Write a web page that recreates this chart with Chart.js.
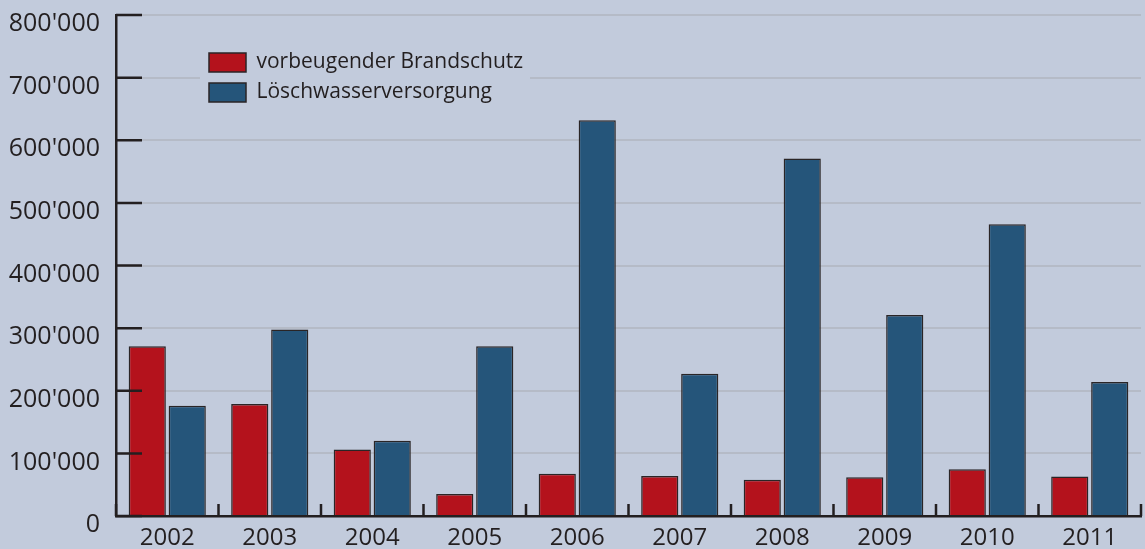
<!DOCTYPE html>
<html lang="de">
<head>
    <meta charset="UTF-8">
    <title>Brandschutz / Löschwasserversorgung</title>
    <script src="https://cdn.jsdelivr.net/npm/chart.js"></script>
    <style>
        html, body { margin: 0; padding: 0; background: #c2cbdc; }
        #wrap { width: 1145px; height: 549px; }
    </style>
</head>
<body>
    <div id="wrap"><canvas id="chart" width="1145" height="549"></canvas></div>

    <script>
        const years = ['2002', '2003', '2004', '2005', '2006', '2007', '2008', '2009', '2010', '2011'];
        const brandschutz = [271000, 179000, 106000, 35000, 67500, 64000, 58000, 62000, 74500, 63000];
        const loeschwasser = [176000, 298000, 120000, 271000, 632000, 227000, 571000, 321000, 466000, 214000];
        const yTicks = [0, 100000, 200000, 300000, 400000, 500000, 600000, 700000, 800000];

        const bg = '#c2cbdc';
        const ink = '#231f20';

        // Schweizer Tausendertrennzeichen
        function fmt(v) {
            return String(v).replace(/\B(?=(\d{3})+(?!\d))/g, "'");
        }

        // kurze Striche nach innen, wie im Original
        const axisMarks = {
            id: 'axisMarks',
            afterDatasetsDraw(chart) {
                const { ctx, scales: { x, y }, legend } = chart;
                ctx.save();
                // Legendenhintergrund deckt die Gitterlinie ab, dann Legende neu zeichnen
                ctx.fillStyle = bg;
                ctx.fillRect(200, 45, 330, 64);
                ctx.restore();
                legend.draw();
                ctx.save();
                ctx.strokeStyle = ink;
                ctx.lineWidth = 2.5;
                ctx.beginPath();
                yTicks.forEach(v => {
                    const py = y.getPixelForValue(v);
                    ctx.moveTo(x.left, py);
                    ctx.lineTo(x.left + 26, py);
                });
                const half = (x.getPixelForValue(1) - x.getPixelForValue(0)) / 2;
                for (let i = 0; i <= years.length; i++) {
                    const px = i < years.length ? x.getPixelForValue(i) - half : x.getPixelForValue(i - 1) + half;
                    ctx.moveTo(px, y.bottom);
                    ctx.lineTo(px, y.bottom - 12);
                }
                ctx.stroke();
                ctx.restore();
            },
            afterLayout(chart) {
                const lg = chart.legend;
                lg.left = 200;
                lg.top = 43;
                lg.right = 560;
                lg.bottom = 115;
                lg.width = lg.right - lg.left;
                lg.height = lg.bottom - lg.top;
            }
        };

        new Chart(document.getElementById('chart'), {
            type: 'bar',
            data: {
                labels: years,
                datasets: [{
                    label: 'vorbeugender Brandschutz',
                    data: brandschutz,
                    backgroundColor: '#b4121c',
                    borderColor: '#2a2526',
                    borderWidth: 1.5,
                    categoryPercentage: 0.78,
                    barPercentage: 0.93
                }, {
                    label: 'Löschwasserversorgung',
                    data: loeschwasser,
                    backgroundColor: '#25557a',
                    borderColor: '#2a2526',
                    borderWidth: 1.5,
                    categoryPercentage: 0.78,
                    barPercentage: 0.93
                }]
            },
            options: {
                responsive: false,
                animation: false,
                layout: { padding: { top: 0, right: 4, left: 0, bottom: 0 } },
                plugins: {
                    tooltip: { enabled: false },
                    legend: {
                        position: 'chartArea',
                        align: 'start',
                        labels: {
                            boxWidth: 37,
                            boxHeight: 19,
                            padding: 9,
                            color: ink,
                            font: { family: 'Open Sans', size: 21 }
                        }
                    }
                },
                scales: {
                    x: {
                        grid: { display: false },
                        border: { color: ink, width: 2.5 },
                        ticks: {
                            color: ink,
                            padding: 0,
                            font: { family: 'Open Sans', size: 24 }
                        },
                        afterFit(s) { s.height = 33; }
                    },
                    y: {
                        min: 0,
                        max: 800000,
                        afterBuildTicks(s) { s.ticks = yTicks.map(v => ({ value: v })); },
                        grid: { color: '#b5bbc7', lineWidth: 2, drawTicks: false },
                        border: { color: ink, width: 2.5 },
                        ticks: {
                            color: ink,
                            padding: 16,
                            labelOffset: 9,
                            font: { family: 'Open Sans', size: 25 },
                            callback: v => fmt(v)
                        },
                        afterFit(s) {
                            s.width = 116;
                            s.paddingTop = 15;
                            s.paddingBottom = 0;
                        }
                    }
                }
            },
            plugins: [axisMarks]
        });
    </script>
</body>
</html>
